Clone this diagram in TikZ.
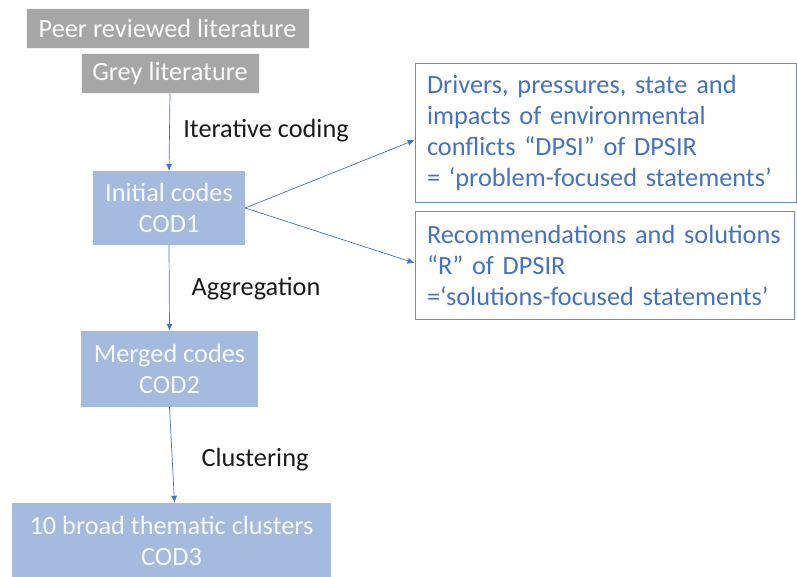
\documentclass[tikz,border=0pt]{standalone}
\usepackage{fontspec}
\setmainfont{Carlito}
\usetikzlibrary{arrows.meta}
\definecolor{greybox}{HTML}{A6A6A6}
\definecolor{bluebox}{HTML}{A4BADF}
\definecolor{blueline}{HTML}{4472C4}
\definecolor{labeltext}{HTML}{1A1A1A}
\begin{document}
\begin{tikzpicture}[x=1pt,y=-1pt,
  fs/.style={font=\fontsize{26.3}{31}\selectfont},
  greyb/.style={fs,fill=greybox,draw=white!85!greybox,line width=0.6pt,text=white!95!greybox,inner sep=0pt},
  blueb/.style={fs,fill=bluebox,text=white!92!bluebox,inner sep=0pt,align=center},
  outb/.style={fs,draw=blueline!80,line width=0.8pt,text=blueline,align=left,inner xsep=12pt,inner ysep=0pt},
  lbl/.style={fs,text=labeltext,inner sep=0pt},
  conn/.style={draw=blueline,line width=0.7pt,-{Latex[length=7pt,width=6pt]}}
]
\useasboundingbox (0,0) rectangle (797,577);
\node[greyb,minimum width=283pt,minimum height=40pt] (peer) at (167.5,28) {Peer reviewed literature};
\node[greyb,minimum width=178pt,minimum height=40pt] (grey) at (170,73) {Grey literature};
\node[blueb,minimum width=152pt,minimum height=74pt] (init) at (169,208) {Initial codes\\COD1};
\node[blueb,minimum width=177pt,minimum height=76pt] (merged) at (169.5,369) {Merged codes\\COD2};
\node[blueb,minimum width=319pt,minimum height=76pt] (broad) at (171.5,541) {10 broad thematic clusters\\COD3};
\node[outb,text width=357pt,minimum height=139pt] (dpsi) at (605.5,132.5) {Drivers, pressures, state and\\impacts of environmental\\conflicts “DPSI” of DPSIR\\= ‘problem-focused statements’};
\node[outb,text width=355pt,minimum height=108pt] (rbox) at (604.5,265) {Recommendations and solutions\\“R” of DPSIR\\=‘solutions-focused statements’};
\node[lbl] (itc) at (266,131) {Iterative coding};
\node[lbl] (agg) at (256,289) {Aggregation};
\node[lbl] (clu) at (255,460) {Clustering};
\draw[conn] (grey.south) -- (init.north);
\draw[conn] (init.south) -- (merged.north);
\draw[conn] (merged.south) -- ([xshift=3pt]broad.north);
\coordinate (s1) at (init.east);
\draw[conn] (s1) -- (dpsi.west |- 0,140);
\draw[conn] (s1) -- (rbox.west |- 0,263);
\end{tikzpicture}
\end{document}
